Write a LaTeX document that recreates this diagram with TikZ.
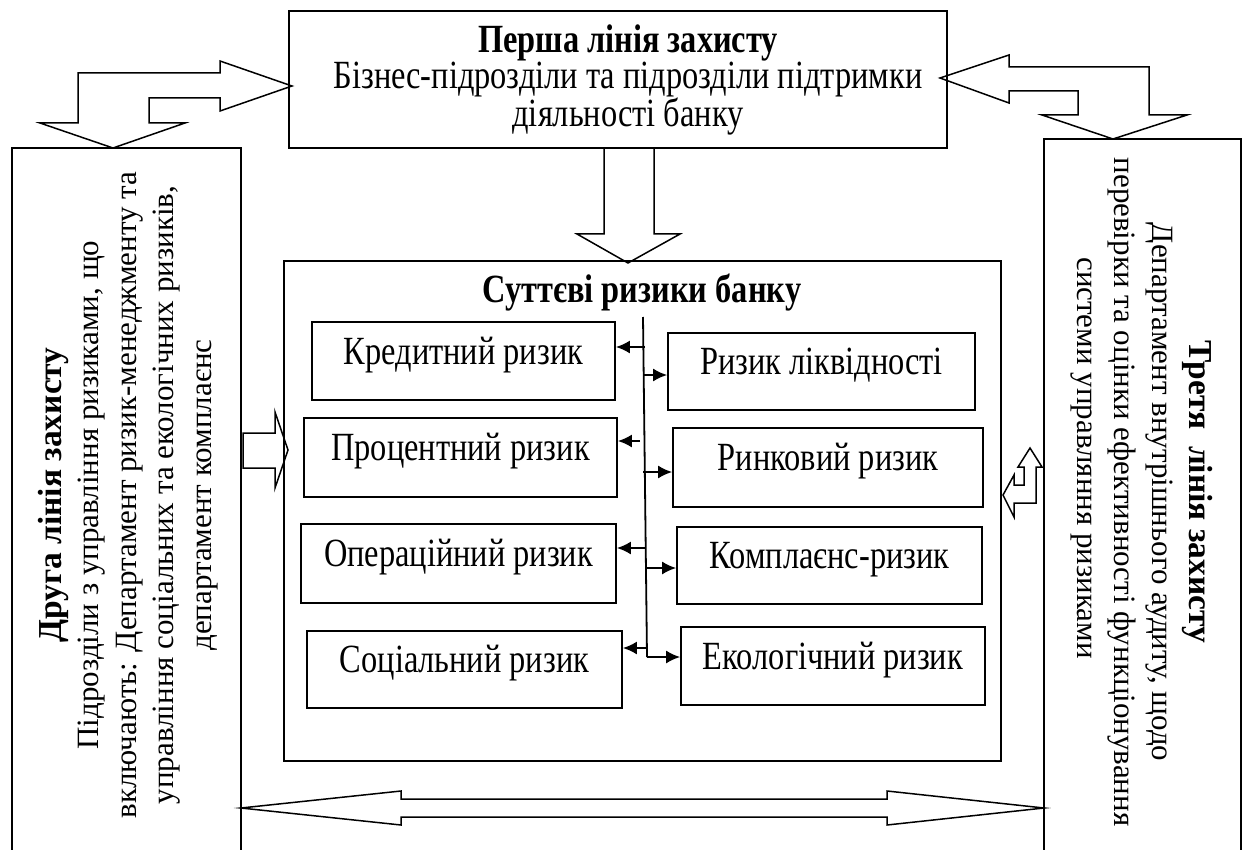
\documentclass[tikz,border=0pt]{standalone}
\usepackage{fontspec}
\setmainfont{Liberation Serif}
\newfontfamily\tallfont[FakeStretch=0.81]{Liberation Serif}
\usetikzlibrary{arrows.meta,calc}
\begin{document}
\begin{tikzpicture}[x=1pt,y=-1pt,
  box/.style={draw,line width=1.6pt,inner sep=0pt},
  blk/.style={draw,line width=1.5pt,line join=miter},
  side/.style={line width=1.6pt},
  htxt/.style={font=\tallfont\fontsize{40}{35}\selectfont,align=center,inner sep=0pt},
  vtxt/.style={font=\fontsize{31}{37.5}\selectfont,align=center,inner sep=0pt},
  vbold/.style={font=\bfseries\fontsize{33.5}{37.5}\selectfont},
  riskbox/.style={box,font=\tallfont\fontsize{40}{35}\selectfont,text height=28pt,text depth=22pt},
  arr/.style={line width=2.2pt,-{Latex[length=14pt,width=13pt]}}
]
\useasboundingbox (0,0) rectangle (1246,850);

% block arrows
\draw[blk] (78,73) -- (220,73) -- (220,61) -- (292,86) -- (220,111) -- (220,98) -- (149,98) -- (149,123) -- (185,123) -- (113,148) -- (40,123) -- (78,123) -- cycle;
\draw[blk] (940,78) -- (1009,55) -- (1009,67) -- (1149,67) -- (1149,115) -- (1187,115) -- (1113,139) -- (1042,115) -- (1078,115) -- (1078,91) -- (1009,91) -- (1009,103) -- cycle;
\draw[blk] (604,148) -- (654,148) -- (654,234) -- (680,234) -- (628,263) -- (577,234) -- (604,234) -- cycle;
\draw[blk] (243,433) -- (275,433) -- (275,412) -- (288,450) -- (275,488) -- (275,468) -- (243,468) -- cycle;
\draw[blk] (1030,448) -- (1042,467) -- (1036,467) -- (1036,503) -- (1014,503) -- (1014,517) -- (1003,495) -- (1014,475) -- (1014,485) -- (1024,485) -- (1024,467) -- (1018,467) -- cycle;
\draw[blk] (241,808) -- (401,791) -- (401,799) -- (887,799) -- (887,791) -- (1044,808) -- (887,825) -- (887,817) -- (401,817) -- (401,825) -- cycle;

% first line of defence
\node[box,minimum width=658pt,minimum height=137pt] (first) at (618,79.5) {};
\node[htxt] (firsttxt) at (628,80) {\textbf{Перша лінія захисту}\\Бізнес-підрозділи та підрозділи підтримки\\діяльності банку};

% second line of defence
\draw[side] (12,852) -- (12,148) -- (241,148) -- (241,852);
\node[vtxt,rotate=90] (secondtxt) at (128,495) {{\bfseries\fontsize{33.5}{37.5}\selectfont Друга лінія захисту}\\Підрозділи з управління ризиками, що\\включають: Департамент ризик-менеджменту та\\управління соціальних та екологічних ризиків,\\департамент комплаєнс};

% third line of defence
\draw[side] (1044,852) -- (1044,139) -- (1241,139) -- (1241,852);
\node[vtxt,rotate=-90] (thirdtxt) at (1142,492) {{\bfseries\fontsize{33.5}{37.5}\selectfont Третя~ лінія захисту}\\Департамент внутрішнього аудиту, щодо\\перевірки та оцінки ефективності функціонування\\системи управляння ризиками\hspace*{68pt}};

% centre
\node[box,minimum width=717pt,minimum height=500pt] (centre) at (642.5,511) {};
\node[htxt,font=\tallfont\bfseries\fontsize{40}{35}\selectfont] (title) at (642,292) {Суттєві ризики банку};

\node[riskbox,minimum width=303pt,minimum height=78pt] (kred) at (463.5,361) {Кредитний ризик};
\node[riskbox,minimum width=313pt,minimum height=79pt] (prots) at (460.5,457.5) {Процентний ризик};
\node[riskbox,minimum width=315pt,minimum height=79pt] (oper) at (458.5,563.5) {Операційний ризик};
\node[riskbox,minimum width=315pt,minimum height=77pt] (sots) at (464.5,669.5) {Соціальний ризик};
\node[riskbox,minimum width=307pt,minimum height=77pt] (likv) at (821.5,371.5) {Ризик ліквідності};
\node[riskbox,minimum width=310pt,minimum height=79pt] (rynk) at (828,467.5) {Ринковий ризик};
\node[riskbox,minimum width=305pt,minimum height=77pt] (kompl) at (829.5,565.5) {Комплаєнс-ризик};
\node[riskbox,minimum width=304pt,minimum height=78pt] (ekol) at (833,666) {Екологічний ризик};

% spine and arrows
\coordinate (vtop) at (643,317);
\coordinate (vbot) at (647,657);
\draw[line width=1.8pt] (vtop) -- (vbot);
\coordinate (a1) at (645,347);
\coordinate (a2) at (644,375);
\coordinate (a3) at (640,441);
\coordinate (a4) at (643,472);
\coordinate (a5) at (645,548);
\coordinate (a6) at (646,568);
\coordinate (a7) at (646,648);
\draw[arr] (a1) -- (a1 -| kred.east);
\draw[arr] (a2) -- (a2 -| likv.west);
\draw[arr] (a3) -- (a3 -| prots.east);
\draw[arr] (a4) -- (a4 -| rynk.west);
\draw[arr] (a5) -- (a5 -| oper.east);
\draw[arr] (a6) -- (a6 -| kompl.west);
\draw[arr] (a7) -- (a7 -| sots.east);
\draw[arr] (vbot) -- (vbot -| ekol.west);
\end{tikzpicture}
\end{document}
